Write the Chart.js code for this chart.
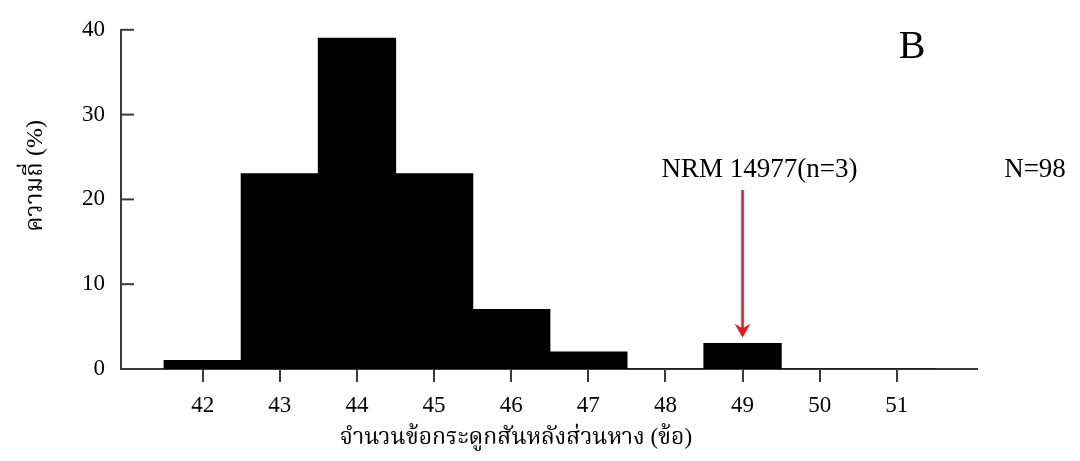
<!DOCTYPE html>
<html>
<head>
<meta charset="utf-8">
<script src="https://cdn.jsdelivr.net/npm/chart.js@4.4.1/dist/chart.umd.min.js"></script>
<style>
    html, body { margin: 0; padding: 0; background: #fff; }
    #wrap { width: 1080px; height: 461px; }
</style>
</head>
<body>
<div id="wrap"><canvas id="histChart"></canvas></div>
<script>
// data ที่อ่านจากรูป
const vertebraCounts = [42, 43, 44, 45, 46, 47, 48, 49, 50, 51];
const frequencyPct = [1, 23, 39, 23, 7, 2, 0, 3, 0, 0];
const xTickValues = [42, 43, 44, 45, 46, 47, 48, 49, 50, 51];
const yTickValues = [0, 10, 20, 30, 40];

const xTitle = 'จำนวนข้อกระดูกสันหลังส่วนหาง (ข้อ)';
const yTitle = 'ความถี่ (%)';
const panelLabel = 'B';
const arrowLabel = 'NRM 14977(n=3)';
const arrowTarget = 49;
const totalLabel = 'N=98';

const SERIF = '"Liberation Serif", "Times New Roman", "Noto Serif Thai", "Noto Sans Thai", serif';
const AXIS_COLOR = '#3a3a3a';

// วาดขีด y ด้านใน, ชื่อแกน, ลูกศร และข้อความ
const annotationPlugin = {
    id: 'annotations',
    afterDraw(chart) {
        const { ctx, chartArea } = chart;
        const xs = chart.scales.x;
        const ys = chart.scales.y;

        ctx.save();
        ctx.strokeStyle = AXIS_COLOR;
        ctx.lineWidth = 2;
        yTickValues.forEach(v => {
            const y = ys.getPixelForValue(v);
            ctx.beginPath();
            ctx.moveTo(chartArea.left, y);
            ctx.lineTo(chartArea.left + 13, y);
            ctx.stroke();
        });

        ctx.fillStyle = '#000';
        ctx.textAlign = 'center';
        ctx.textBaseline = 'middle';

        // ชื่อแกน x
        ctx.font = '23px ' + SERIF;
        ctx.fillText(xTitle, 516, 438);

        // ชื่อแกน y
        ctx.save();
        ctx.translate(36, 176);
        ctx.rotate(-Math.PI / 2);
        ctx.font = '24px ' + SERIF;
        ctx.fillText(yTitle, 0, 0);
        ctx.restore();

        ctx.font = '40px ' + SERIF;
        ctx.fillText(panelLabel, 912, 47);

        ctx.font = '27px ' + SERIF;
        const ax = xs.getPixelForValue(arrowTarget);
        ctx.fillText(arrowLabel, ax + 17, 170);
        ctx.fillText(totalLabel, 1035, 170);

        // ลูกศรสีแดง
        const barVal = frequencyPct[vertebraCounts.indexOf(arrowTarget)];
        const tipY = ys.getPixelForValue(barVal) - 6;
        ctx.strokeStyle = '#e8141b';
        ctx.fillStyle = '#e8141b';
        ctx.lineWidth = 2.5;
        ctx.beginPath();
        ctx.moveTo(ax, 190);
        ctx.lineTo(ax, tipY - 8);
        ctx.stroke();
        ctx.beginPath();
        ctx.moveTo(ax, tipY);
        ctx.lineTo(ax - 8, tipY - 14);
        ctx.lineTo(ax, tipY - 9);
        ctx.lineTo(ax + 8, tipY - 14);
        ctx.closePath();
        ctx.fill();
        ctx.restore();
    }
};

new Chart(document.getElementById('histChart'), {
    type: 'bar',
    data: {
        datasets: [{
            data: vertebraCounts.map((c, i) => ({ x: c, y: frequencyPct[i] })),
            backgroundColor: '#000',
            borderWidth: 0,
            inflateAmount: 0.6,
            barPercentage: 1,
            categoryPercentage: 1,
        }]
    },
    options: {
        responsive: true,
        maintainAspectRatio: false,
        animation: false,
        layout: {
            padding: { top: 27, right: 103, left: 0, bottom: 0 }
        },
        plugins: {
            legend: { display: false },
            tooltip: { enabled: false }
        },
        scales: {
            x: {
                type: 'linear',
                offset: false,
                min: 40.94,
                max: 52.04,
                afterBuildTicks: scale => {
                    scale.ticks = xTickValues.map(v => ({ value: v }));
                },
                afterFit: scale => { scale.height = 92; },
                grid: {
                    offset: false,
                    drawOnChartArea: false,
                    drawTicks: true,
                    tickLength: 13,
                    color: AXIS_COLOR,
                    lineWidth: 2
                },
                border: { display: true, color: AXIS_COLOR, width: 2 },
                ticks: {
                    padding: 10,
                    color: '#000',
                    font: { family: SERIF, size: 23 },
                    maxRotation: 0
                }
            },
            y: {
                min: 0,
                max: 40,
                afterBuildTicks: scale => {
                    scale.ticks = yTickValues.map(v => ({ value: v }));
                },
                afterFit: scale => { scale.width = 121; },
                grid: { display: false, drawTicks: false },
                border: { display: true, color: AXIS_COLOR, width: 2 },
                ticks: {
                    padding: 16,
                    color: '#000',
                    font: { family: SERIF, size: 23 }
                }
            }
        }
    },
    plugins: [annotationPlugin]
});
</script>
</body>
</html>
